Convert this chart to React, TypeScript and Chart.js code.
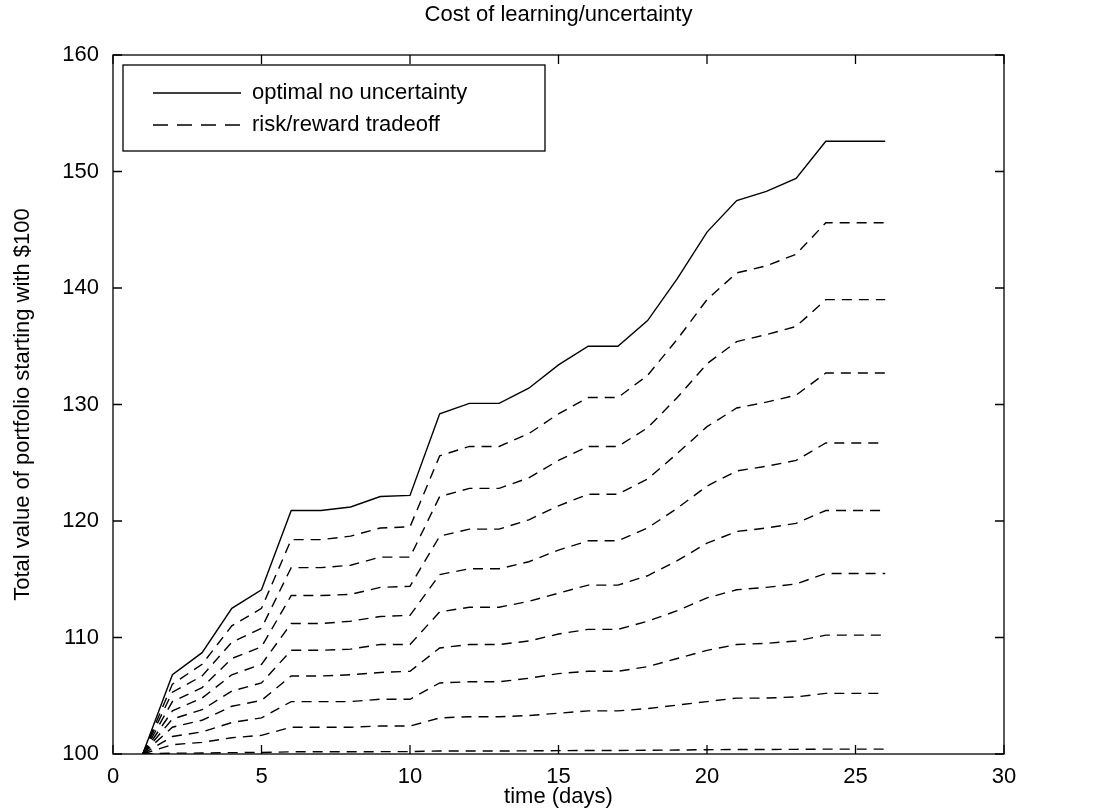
import { useEffect, useRef } from "react";
import { Chart, registerables } from "chart.js";

Chart.register(...registerables);

const days = Array.from({ length: 26 }, (_, i) => i + 1);

const optimal = [100, 106.8, 108.7, 112.5, 114.1, 120.9, 120.9, 121.2, 122.1, 122.2, 129.2, 130.1, 130.1, 131.4, 133.4, 135.0, 135.0, 137.2, 140.8, 144.8, 147.5, 148.3, 149.4, 152.6, 152.6, 152.6];

const trade1 = [100, 106.0, 107.7, 111.0, 112.5, 118.4, 118.4, 118.7, 119.4, 119.5, 125.6, 126.4, 126.4, 127.5, 129.2, 130.6, 130.6, 132.5, 135.6, 139.0, 141.3, 141.9, 142.9, 145.6, 145.6, 145.6];
const trade2 = [100, 105.3, 106.7, 109.6, 110.8, 116.0, 116.0, 116.2, 116.9, 116.9, 122.1, 122.8, 122.8, 123.7, 125.2, 126.4, 126.4, 128.0, 130.6, 133.5, 135.4, 136.0, 136.7, 139.0, 139.0, 139.0];
const trade3 = [100, 104.5, 105.7, 108.2, 109.2, 113.6, 113.6, 113.7, 114.3, 114.4, 118.7, 119.3, 119.3, 120.1, 121.3, 122.3, 122.3, 123.6, 125.8, 128.1, 129.7, 130.2, 130.8, 132.7, 132.7, 132.7];
const trade4 = [100, 103.7, 104.8, 106.8, 107.7, 111.2, 111.2, 111.4, 111.8, 111.9, 115.4, 115.9, 115.9, 116.5, 117.5, 118.3, 118.3, 119.4, 121.1, 123.0, 124.3, 124.7, 125.2, 126.7, 126.7, 126.7];
const trade5 = [100, 103.0, 103.8, 105.4, 106.1, 108.9, 108.9, 109.0, 109.4, 109.4, 112.2, 112.6, 112.6, 113.1, 113.8, 114.5, 114.5, 115.3, 116.6, 118.1, 119.1, 119.4, 119.8, 120.9, 120.9, 120.9];
const trade6 = [100, 102.3, 102.9, 104.1, 104.6, 106.7, 106.7, 106.8, 107.0, 107.1, 109.1, 109.4, 109.4, 109.7, 110.3, 110.7, 110.7, 111.4, 112.3, 113.4, 114.1, 114.3, 114.6, 115.5, 115.5, 115.5];
const trade7 = [100, 101.5, 101.9, 102.7, 103.1, 104.5, 104.5, 104.5, 104.7, 104.7, 106.1, 106.2, 106.2, 106.5, 106.9, 107.1, 107.1, 107.5, 108.2, 108.9, 109.4, 109.5, 109.7, 110.2, 110.2, 110.2];
const trade8 = [100, 100.8, 101.0, 101.4, 101.6, 102.3, 102.3, 102.3, 102.4, 102.4, 103.1, 103.2, 103.2, 103.3, 103.5, 103.7, 103.7, 103.9, 104.2, 104.5, 104.8, 104.8, 104.9, 105.2, 105.2, 105.2];
const trade9 = [100, 100.07, 100.08, 100.12, 100.13, 100.19, 100.19, 100.19, 100.2, 100.2, 100.26, 100.26, 100.26, 100.27, 100.29, 100.3, 100.3, 100.32, 100.34, 100.37, 100.39, 100.39, 100.4, 100.42, 100.42, 100.42];

const tradeoffs = [trade1, trade2, trade3, trade4, trade5, trade6, trade7, trade8, trade9];

const xTicks = [0, 5, 10, 15, 20, 25, 30];
const yTicks = [100, 110, 120, 130, 140, 150, 160];

const FONT = "Liberation Sans, Arial, sans-serif";
const FS = 22;

// MATLAB-style frame, inward ticks, title and boxed legend
const framePlugin = {
  id: "frame",
  afterDraw(chart: any) {
    const { ctx, chartArea: a, scales } = chart;
    ctx.save();
    ctx.strokeStyle = "#000";
    ctx.lineWidth = 1.3;
    ctx.strokeRect(a.left, a.top, a.right - a.left, a.bottom - a.top);
    ctx.beginPath();
    xTicks.forEach((v) => {
      const x = scales.x.getPixelForValue(v);
      ctx.moveTo(x, a.bottom); ctx.lineTo(x, a.bottom - 9);
      ctx.moveTo(x, a.top); ctx.lineTo(x, a.top + 9);
    });
    yTicks.forEach((v) => {
      const y = scales.y.getPixelForValue(v);
      ctx.moveTo(a.left, y); ctx.lineTo(a.left + 9, y);
      ctx.moveTo(a.right, y); ctx.lineTo(a.right - 9, y);
    });
    ctx.stroke();

    ctx.fillStyle = "#000";
    ctx.font = `${FS}px ${FONT}`;
    ctx.textAlign = "center";
    ctx.textBaseline = "middle";
    ctx.fillText("Cost of learning/uncertainty", (a.left + a.right) / 2, 15);

    // legend
    const lx = a.left + 10, ly = a.top + 10, lw = 422, lh = 86;
    ctx.fillStyle = "#fff";
    ctx.fillRect(lx, ly, lw, lh);
    ctx.strokeRect(lx, ly, lw, lh);
    ctx.lineWidth = 1.3;
    ctx.beginPath();
    ctx.moveTo(lx + 30, ly + 28); ctx.lineTo(lx + 118, ly + 28);
    ctx.stroke();
    ctx.setLineDash([15, 9]);
    ctx.beginPath();
    ctx.moveTo(lx + 30, ly + 60); ctx.lineTo(lx + 118, ly + 60);
    ctx.stroke();
    ctx.setLineDash([]);
    ctx.fillStyle = "#000";
    ctx.textAlign = "left";
    ctx.fillText("optimal no uncertainty", lx + 129, ly + 28);
    ctx.fillText("risk/reward tradeoff", lx + 129, ly + 60);
    ctx.restore();
  },
};

export default function App() {
  const canvasRef = useRef<HTMLCanvasElement>(null);

  useEffect(() => {
    if (!canvasRef.current) return;
    const datasets: any[] = [
      {
        label: "optimal no uncertainty",
        data: optimal,
        borderColor: "#000",
        borderWidth: 1.4,
        pointRadius: 0,
        tension: 0,
      },
      ...tradeoffs.map((d) => ({
        label: "risk/reward tradeoff",
        data: d,
        borderColor: "#000",
        borderWidth: 1.4,
        borderDash: [10, 7],
        pointRadius: 0,
        tension: 0,
      })),
    ].map((ds) => ({ ...ds, data: ds.data.map((y: number, i: number) => ({ x: days[i], y })) }));

    const chart = new Chart(canvasRef.current, {
      type: "line",
      data: { datasets },
      plugins: [framePlugin],
      options: {
        animation: false,
        responsive: false,
        devicePixelRatio: 1,
        layout: { padding: { top: 55, right: 96, left: 10, bottom: 0 } },
        plugins: { legend: { display: false }, tooltip: { enabled: false } },
        scales: {
          x: {
            type: "linear",
            min: 0,
            max: 30,
            afterFit: (s: any) => { s.height = 56; },
            afterBuildTicks: (s: any) => { s.ticks = xTicks.map((v) => ({ value: v })); },
            grid: { display: false },
            border: { display: false },
            ticks: { color: "#000", font: { family: FONT, size: FS }, padding: 2 },
            title: { display: true, text: "time (days)", color: "#000", font: { family: FONT, size: FS }, padding: 0 },
          },
          y: {
            min: 100,
            max: 160,
            afterFit: (s: any) => { s.width = 103; },
            afterBuildTicks: (s: any) => { s.ticks = yTicks.map((v) => ({ value: v })); },
            grid: { display: false },
            border: { display: false },
            ticks: { color: "#000", font: { family: FONT, size: FS }, padding: 6 },
            title: { display: true, text: "Total value of portfolio starting with $100", color: "#000", font: { family: FONT, size: FS }, padding: 0 },
          },
        },
      },
    });
    return () => chart.destroy();
  }, []);

  return (
    <div style={{ position: "fixed", left: 0, top: 0, width: 1100, height: 810, background: "#fff" }}>
      <canvas ref={canvasRef} width={1100} height={810} />
    </div>
  );
}
